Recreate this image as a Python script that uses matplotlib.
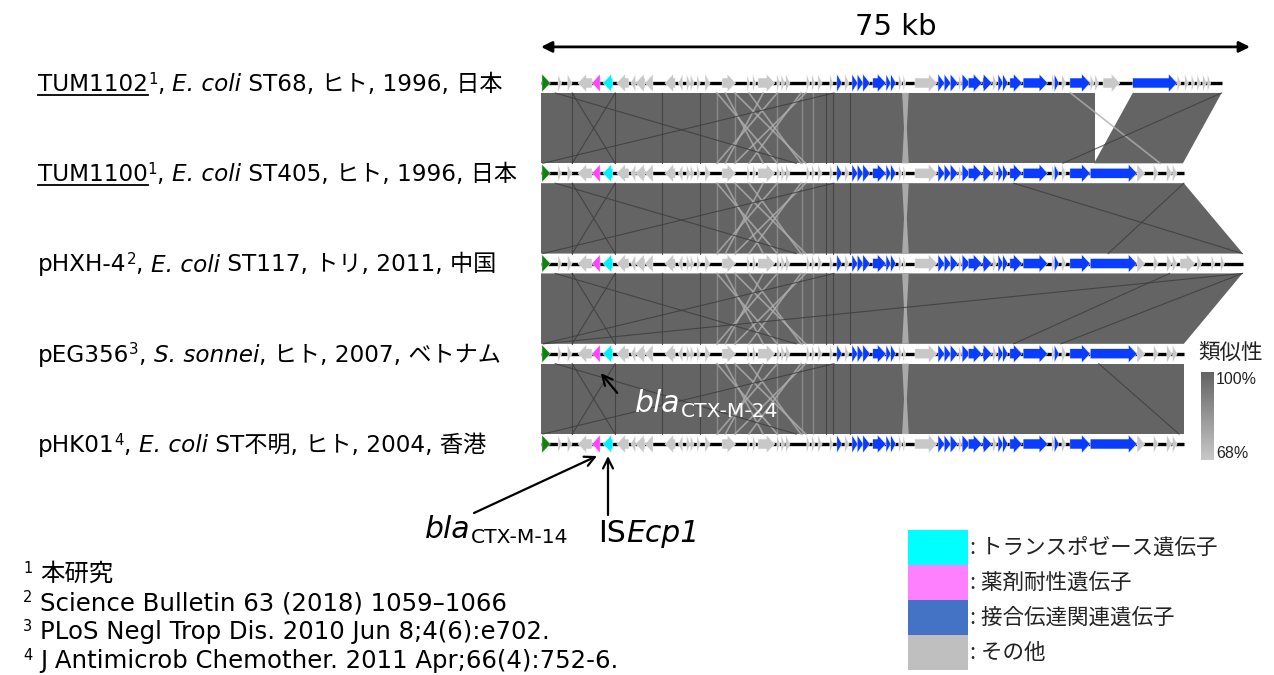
import numpy as np
import matplotlib
matplotlib.use('Agg')
import matplotlib.pyplot as plt
from matplotlib.patches import Polygon, Rectangle
from matplotlib.colors import LinearSegmentedColormap

plt.rcParams['font.family'] = ['DejaVu Sans', 'Noto Sans CJK JP']
JP = ['Noto Sans CJK JP', 'DejaVu Sans']
LAT = ['DejaVu Sans', 'Noto Sans CJK JP']

# ── DATA ─────────────────────────────────────────────────────────────────
SCALE_KB = 75
TRACK_LEN = [72.0, 68.0, 74.25, 68.0, 68.0]          # kb per plasmid row

STRAIN  = ['TUM1102', 'TUM1100', 'pHXH-4', 'pEG356', 'pHK01']
UNDERLINE = [True, True, False, False, False]
REF_NO  = ['1', '1', '2', '3', '4']
SPECIES = ['E. coli', 'E. coli', 'E. coli', 'S. sonnei', 'E. coli']
REST    = [' ST68, ヒト, 1996, 日本', ' ST405, ヒト, 1996, 日本',
           ' ST117, トリ, 2011, 中国', ', ヒト, 2007, ベトナム',
           ' ST不明, ヒト, 2004, 香港']

# genes shared by all rows: (start kb, end kb, strand, category)
COMMON = [
    (0.1, 1.0, 1, 'rep'), (1.8, 2.2, 1, 'oth'), (2.8, 3.3, 1, 'oth'),
    (3.9, 5.4, -1, 'oth'), (5.4, 6.25, -1, 'res'), (6.55, 7.6, -1, 'tnp'),
    (8.0, 9.3, -1, 'oth'), (9.5, 10.0, -1, 'oth'), (10.0, 11.0, -1, 'oth'),
    (11.0, 11.85, -1, 'oth'), (13.1, 14.2, -1, 'oth'), (14.5, 15.0, -1, 'oth'),
    (15.4, 15.8, 1, 'oth'), (15.8, 16.2, 1, 'oth'), (16.5, 16.85, 1, 'oth'),
    (17.35, 17.9, 1, 'oth'), (19.15, 20.6, 1, 'oth'), (21.8, 22.1, 1, 'oth'),
    (22.4, 22.75, 1, 'oth'), (22.95, 24.75, 1, 'oth'), (24.95, 25.3, 1, 'oth'),
    (25.4, 25.8, 1, 'oth'), (25.9, 26.35, 1, 'oth'), (28.1, 28.45, 1, 'oth'),
    (28.65, 29.0, 1, 'oth'), (29.3, 29.75, 1, 'oth'), (30.55, 30.9, 1, 'oth'),
    (31.3, 31.85, 1, 'conj'), (32.15, 32.6, 1, 'oth'), (32.9, 33.5, 1, 'conj'),
    (33.45, 34.1, 1, 'conj'), (34.05, 34.8, 1, 'conj'), (35.1, 36.5, 1, 'conj'),
    (36.5, 37.0, 1, 'conj'), (37.0, 37.55, 1, 'conj'), (37.85, 38.2, 1, 'oth'),
    (38.3, 38.6, 1, 'oth'), (39.55, 41.9, 1, 'oth'), (42.0, 42.7, 1, 'conj'),
    (42.65, 43.35, 1, 'conj'), (43.3, 44.1, 1, 'conj'), (44.2, 44.5, 1, 'oth'),
    (44.55, 45.4, 1, 'conj'), (45.2, 46.65, 1, 'conj'), (46.75, 47.7, 1, 'conj'),
    (47.8, 48.2, 1, 'oth'), (48.35, 48.9, 1, 'conj'), (48.85, 49.4, 1, 'conj'),
    (49.6, 50.9, 1, 'conj'), (51.0, 53.6, 1, 'conj'), (54.05, 54.4, 1, 'oth'),
    (54.3, 54.8, 1, 'conj'), (55.1, 55.55, 1, 'oth'), (55.95, 58.1, 1, 'conj'),
]
TAIL_TUM1102 = [
    (58.1, 58.5, 1, 'oth'), (58.6, 59.0, 1, 'oth'), (59.45, 61.25, 1, 'oth'),
    (62.6, 67.3, 1, 'conj'), (67.3, 67.7, 1, 'oth'), (68.1, 68.5, 1, 'oth'),
    (68.8, 69.15, 1, 'oth'), (69.4, 69.8, 1, 'oth'), (70.0, 70.4, 1, 'oth'),
    (70.5, 70.85, 1, 'oth'),
]
TAIL_STD = [
    (58.1, 63.05, 1, 'conj'), (63.05, 63.9, 1, 'oth'), (64.8, 65.3, 1, 'oth'),
    (66.2, 66.75, 1, 'oth'), (66.8, 67.3, 1, 'oth'),
]
TAIL_PHXH = TAIL_STD + [
    (67.6, 69.2, 1, 'oth'), (69.4, 69.9, 1, 'oth'), (70.9, 71.3, 1, 'oth'),
    (71.9, 72.3, 1, 'oth'),
]
TAILS = [TAIL_TUM1102, TAIL_STD, TAIL_PHXH, TAIL_STD, TAIL_STD]

# alignment blocks between row i and i+1: (top start, top end, bottom start, bottom end, identity %)
BLOCKS = [
    [(0, 58.6, 0, 58.6, 99.9), (62.6, 72.0, 58.5, 67.9, 99.9)],
    [(0, 68.0, 0, 74.25, 99.9)],
    [(0, 74.2, 0, 68.0, 99.9)],
    [(0, 68.0, 0, 68.0, 99.9)],
]
# short cross hits drawn as lines: (top kb, bottom kb)
DARK_HITS = [(3.3, 7.85), (7.85, 3.3), (3.3, 3.3), (7.85, 7.85), (12.8, 12.8),
             (16.8, 16.8), (30.2, 30.2), (30.9, 30.9), (32.7, 32.7),
             (1.5, 27.0), (31.0, 0.2)]
LIGHT_X = [(18.6, 25.0), (25.0, 18.6), (20.5, 28.0), (28.0, 20.5),
           (22.0, 27.5), (27.5, 22.0), (19.5, 23.5), (23.5, 19.5)]
LIGHT_V = [18.6, 20.5, 25.0, 27.6, 28.8]
EXTRA_DARK = [[(72.0, 55.2)], [(50.0, 74.2), (68.0, 60.0)],
              [(74.2, 0.3), (74.2, 55.0), (66.5, 50.0)], [(59.0, 67.5)]]
EXTRA_LIGHT = [[(56.0, 65.5)], [], [], []]
STRIPE = (38.2, 38.9)              # low identity column
IDENT_LOW, IDENT_HIGH = 68, 100

CAT_COLOR = {'rep': '#128012', 'oth': '#c8c8c8', 'conj': '#0a3cff',
             'res': '#ff44ff', 'tnp': '#00f0ff'}

LEGEND_COL = ['#00ffff', '#ff80ff', '#4472c4', '#bfbfbf']
LEGEND_TXT = [': トランスポゼース遺伝子', ': 薬剤耐性遺伝子',
              ': 接合伝達関連遺伝子', ': その他']

FOOT_NO  = ['1', '2', '3', '4']
FOOT_TXT = ['本研究', 'Science Bulletin 63 (2018) 1059–1066',
            'PLoS Negl Trop Dis. 2010 Jun 8;4(6):e702.',
            'J Antimicrob Chemother. 2011 Apr;66(4):752-6.']

# ── LAYOUT ───────────────────────────────────────────────────────────────
W, H = 1274, 675
X0, X1 = 541, 1250            # pixel span of the 75 kb scale
Y0, ROW_PX = 83, 90.25        # first row centre and row spacing in px
TH = 0.11                     # half height of track (rows)
BODY = 0.055
HEAD_KB = 0.9

fig = plt.figure(figsize=(W / 100, H / 100), dpi=100)
fig.patch.set_facecolor('white')

ax = fig.add_axes([X0 / W, 0, (X1 - X0) / W, 1])
ax.set_xlim(0, SCALE_KB)
ax.set_ylim((H - Y0) / ROW_PX, -Y0 / ROW_PX)
ax.axis('off')
ax.set_zorder(1)

px = fig.add_axes([0, 0, 1, 1])
px.set_zorder(2)
px.patch.set_alpha(0)
px.axis('off')

cmap = LinearSegmentedColormap.from_list('ident', ['#c8c8c8', '#646464'])
def icol(v):
    return cmap((v - IDENT_LOW) / (IDENT_HIGH - IDENT_LOW))

# alignment bands
for r, blocks in enumerate(BLOCKS):
    ya, yb = r + TH, r + 1 - TH
    for t0, t1, b0, b1, ident in blocks:
        ax.add_patch(Polygon([(t0, ya), (t1, ya), (b1, yb), (b0, yb)],
                             closed=True, fc=icol(ident), ec='none', zorder=1))
    ax.add_patch(Polygon([(STRIPE[0], ya), (STRIPE[1], ya), (STRIPE[1] - 0.2, (ya + yb) / 2),
                          (STRIPE[1], yb), (STRIPE[0], yb), (STRIPE[0] + 0.2, (ya + yb) / 2)],
                         closed=True, fc=icol(78), ec='none', zorder=2))
    for t, b in LIGHT_X + EXTRA_LIGHT[r]:
        ax.plot([t, b], [ya, yb], color=icol(76), lw=1.2, alpha=0.8, zorder=2)
    for v in LIGHT_V:
        ax.plot([v, v], [ya, yb], color=icol(80), lw=1.0, alpha=0.6, zorder=2)
    for t, b in DARK_HITS + EXTRA_DARK[r]:
        ax.plot([t, b], [ya, yb], color='#3c3c3c', lw=0.8, alpha=0.8, zorder=2)

# gene tracks
def gene(s, e, strand, row, color):
    hl = min(HEAD_KB, e - s)
    if strand > 0:
        xb = e - hl
        pts = [(s, row - BODY), (xb, row - BODY), (xb, row - TH + 0.01), (e, row),
               (xb, row + TH - 0.01), (xb, row + BODY), (s, row + BODY)]
    else:
        xb = s + hl
        pts = [(e, row - BODY), (xb, row - BODY), (xb, row - TH + 0.01), (s, row),
               (xb, row + TH - 0.01), (xb, row + BODY), (e, row + BODY)]
    ax.add_patch(Polygon(pts, closed=True, fc=color, ec='white', lw=0.3, zorder=4))

for r, L in enumerate(TRACK_LEN):
    ax.plot([0, L], [r, r], color='black', lw=2.4, zorder=3, solid_capstyle='butt')
    for s, e, strand, cat in COMMON + TAILS[r]:
        gene(s, e, strand, r, CAT_COLOR[cat])

# scale bar
ax.annotate('', xy=(0, -0.4), xytext=(SCALE_KB, -0.4),
            arrowprops=dict(arrowstyle='<|-|>', color='black', lw=2,
                            mutation_scale=16, shrinkA=0, shrinkB=0),
            annotation_clip=False)
ax.text(SCALE_KB / 2, -0.47, f'{SCALE_KB} kb', fontsize=21, ha='center', va='bottom')

# ── RICH TEXT HELPER ────────────────────────────────────────────────────
renderer = fig.canvas.get_renderer()

def adv(txt, **kw):
    t = px.text(0, 0, txt + '|', **kw)
    w1 = t.get_window_extent(renderer).width
    t.set_text('|')
    w2 = t.get_window_extent(renderer).width
    t.remove()
    return w1 - w2

def rich(x, y, parts, fs, color='black', family=None):
    cx = x
    for txt, kind in parts:
        size = fs * 0.65 if kind == 'sup' else fs
        dy = 0
        if kind == 'sup':
            dy = -fs * 100 / 72 * 0.32
        kw = dict(fontsize=size, fontstyle='italic' if kind == 'i' else 'normal',
                  color=color)
        if kind == 'sub':
            kw['fontsize'] = fs * 0.68
            dy = fs * 100 / 72 * 0.17
        if family:
            kw['family'] = family
        px.text(cx, y + dy, txt, ha='left', va='baseline', **kw)
        w = adv(txt, **kw)
        if kind == 'u':
            px.plot([cx, cx + w], [y + 4, y + 4], color=color, lw=1.3)
        cx += w
    return cx

# strain labels
for i in range(len(STRAIN)):
    base = Y0 + i * ROW_PX + 8
    rich(38, base, [(STRAIN[i], 'u' if UNDERLINE[i] else 'n'), (REF_NO[i], 'sup'),
                    (', ', 'n'), (SPECIES[i], 'i'), (REST[i], 'n')], 16.7)

# gene annotations
rich(635, 412, [('bla', 'i'), ('CTX-M-24', 'sub')], 21.5, color='white')
px.annotate('', xy=(599, 371), xytext=(619, 395),
            arrowprops=dict(arrowstyle='->', color='black', lw=1.6, mutation_scale=18))
rich(425, 538, [('bla', 'i'), ('CTX-M-14', 'sub')], 21.5)
px.annotate('', xy=(597, 456), xytext=(474, 513),
            arrowprops=dict(arrowstyle='->', color='black', lw=1.6, mutation_scale=18,
                            shrinkA=0, shrinkB=0))
rich(598, 542, [('IS', 'n'), ('Ecp1', 'i')], 21.5)
px.annotate('', xy=(608, 456), xytext=(608, 515),
            arrowprops=dict(arrowstyle='->', color='black', lw=1.6, mutation_scale=18,
                            shrinkA=0, shrinkB=0))

# identity colour bar
grad = np.linspace(IDENT_HIGH, IDENT_LOW, 100).reshape(-1, 1)
px.imshow(grad, cmap=cmap, vmin=IDENT_LOW, vmax=IDENT_HIGH, aspect='auto',
          extent=(1201, 1214, 460, 372), zorder=3)
px.text(1198, 353, '類似性', fontsize=15.5, family=JP, va='center', ha='left', color='#222222')
px.text(1216, 380, f'{IDENT_HIGH}%', fontsize=11.5, family='Liberation Sans', va='center',
        color='#222222')
px.text(1216, 454, f'{IDENT_LOW}%', fontsize=11.5, family='Liberation Sans', va='center',
        color='#222222')

# category legend
for k, (c, t) in enumerate(zip(LEGEND_COL, LEGEND_TXT)):
    top = 530 + 35 * k
    px.add_patch(Rectangle((908, top), 60, 35, fc=c, ec='none'))
    px.text(970, top + 18, t, fontsize=15.5, family=JP, va='center', ha='left',
            color='#222222')

# footnotes
for k, (n, t) in enumerate(zip(FOOT_NO, FOOT_TXT)):
    base = 581 + 29 * k
    px.text(23, base - 8, n, fontsize=10.5, family=LAT, va='baseline', ha='left')
    px.text(40, base, t, fontsize=17.6, family=LAT, va='baseline', ha='left')

px.set_xlim(0, W)
px.set_ylim(H, 0)

fig.savefig('out.png', dpi=100, facecolor='white')
